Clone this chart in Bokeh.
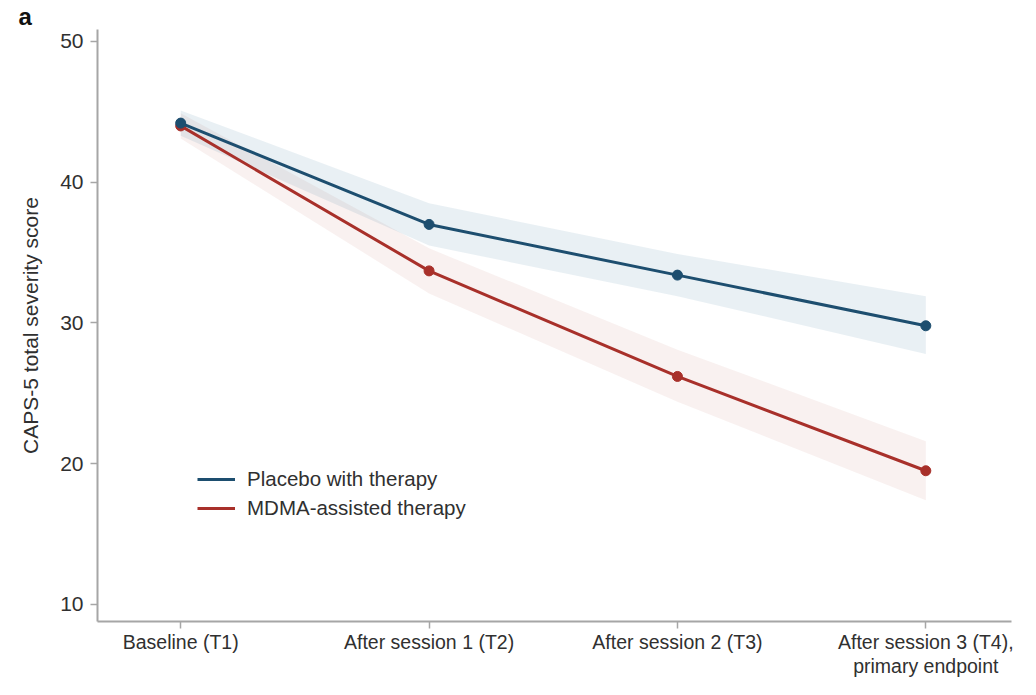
from bokeh.plotting import figure
from bokeh.models import Range1d, FixedTicker, Legend, LegendItem, ColumnDataSource
from bokeh.embed import file_html
from bokeh.resources import INLINE

# ---- data ----
timepoints = ["Baseline (T1)", "After session 1 (T2)", "After session 2 (T3)",
              "After session 3 (T4),\nprimary endpoint"]
x_pos = [0, 1, 2, 3]
placebo_mean = [44.2, 37.0, 33.4, 29.8]
placebo_lo = [43.3, 35.5, 31.9, 27.8]
placebo_hi = [45.1, 38.5, 34.9, 31.9]
mdma_mean = [44.0, 33.7, 26.2, 19.5]
mdma_lo = [43.1, 32.1, 24.4, 17.4]
mdma_hi = [44.9, 35.3, 28.1, 21.6]
y_ticks = [10, 20, 30, 40, 50]

BLUE = "#1d4e6f"
RED = "#a8302a"
FONT = "Liberation Sans"
GREY = "#a6a6a6"
TXT = "#303030"

p = figure(width=1020, height=679, output_backend="svg", toolbar_location=None,
           x_range=Range1d(-0.335, 3.345), y_range=Range1d(8.79, 50.85),
           min_border_left=97, min_border_right=9, min_border_top=20, min_border_bottom=57)
p.outline_line_color = None
p.xgrid.visible = False
p.ygrid.visible = False
p.background_fill_color = "white"
p.border_fill_color = "white"

# panel letter as the figure title
p.title.text = "a"
p.title.align = "left"
p.title.offset = -79
p.title.standoff = 0
p.title.text_font = FONT
p.title.text_font_style = "bold"
p.title.text_font_size = "24px"
p.title.text_color = "#111111"

src = ColumnDataSource(dict(x=x_pos, pm=placebo_mean, pl=placebo_lo, ph=placebo_hi,
                            mm=mdma_mean, ml=mdma_lo, mh=mdma_hi))

p.varea(x="x", y1="ml", y2="mh", source=src, fill_color="#b5483c", fill_alpha=0.08)
p.varea(x="x", y1="pl", y2="ph", source=src, fill_color="#2a6890", fill_alpha=0.10)

r_m = p.line("x", "mm", source=src, line_color=RED, line_width=3)
p.scatter("x", "mm", source=src, size=10, fill_color=RED, line_color=RED)
r_p = p.line("x", "pm", source=src, line_color=BLUE, line_width=3)
p.scatter("x", "pm", source=src, size=10, fill_color=BLUE, line_color=BLUE)

# axes
for ax in (p.xaxis[0], p.yaxis[0]):
    ax.axis_line_color = GREY
    ax.axis_line_width = 2
    ax.major_tick_line_color = GREY
    ax.major_tick_line_width = 1.5
    ax.major_tick_in = 0
    ax.major_tick_out = 7
    ax.minor_tick_line_color = None
    ax.major_label_text_font = FONT
    ax.major_label_text_color = TXT

p.xaxis.ticker = FixedTicker(ticks=x_pos)
p.xaxis.major_label_overrides = {i: t for i, t in zip(x_pos, timepoints)}
p.xaxis.major_label_text_font_size = "19.5px"
p.xaxis.major_label_text_line_height = 1.1
p.xaxis.major_label_standoff = 2

p.yaxis.ticker = FixedTicker(ticks=y_ticks)
p.yaxis.major_label_text_font_size = "21px"
p.yaxis.major_label_standoff = 7
p.yaxis.axis_label = "CAPS-5 total severity score"
p.yaxis.axis_label_text_font = FONT
p.yaxis.axis_label_text_font_style = "normal"
p.yaxis.axis_label_text_font_size = "21px"
p.yaxis.axis_label_text_color = TXT
p.yaxis.axis_label_standoff = 15

legend = Legend(items=[LegendItem(label="Placebo with therapy", renderers=[r_p]),
                       LegendItem(label="MDMA-assisted therapy", renderers=[r_m])],
                location=(100, 101), border_line_color=None, background_fill_alpha=0,
                padding=0, margin=0, glyph_width=38, glyph_height=22, label_height=22,
                spacing=5, label_standoff=12, label_text_font=FONT,
                label_text_font_size="20.5px", label_text_color=TXT)
p.add_layout(legend)

open("out.html", "w").write(file_html(p, INLINE))
